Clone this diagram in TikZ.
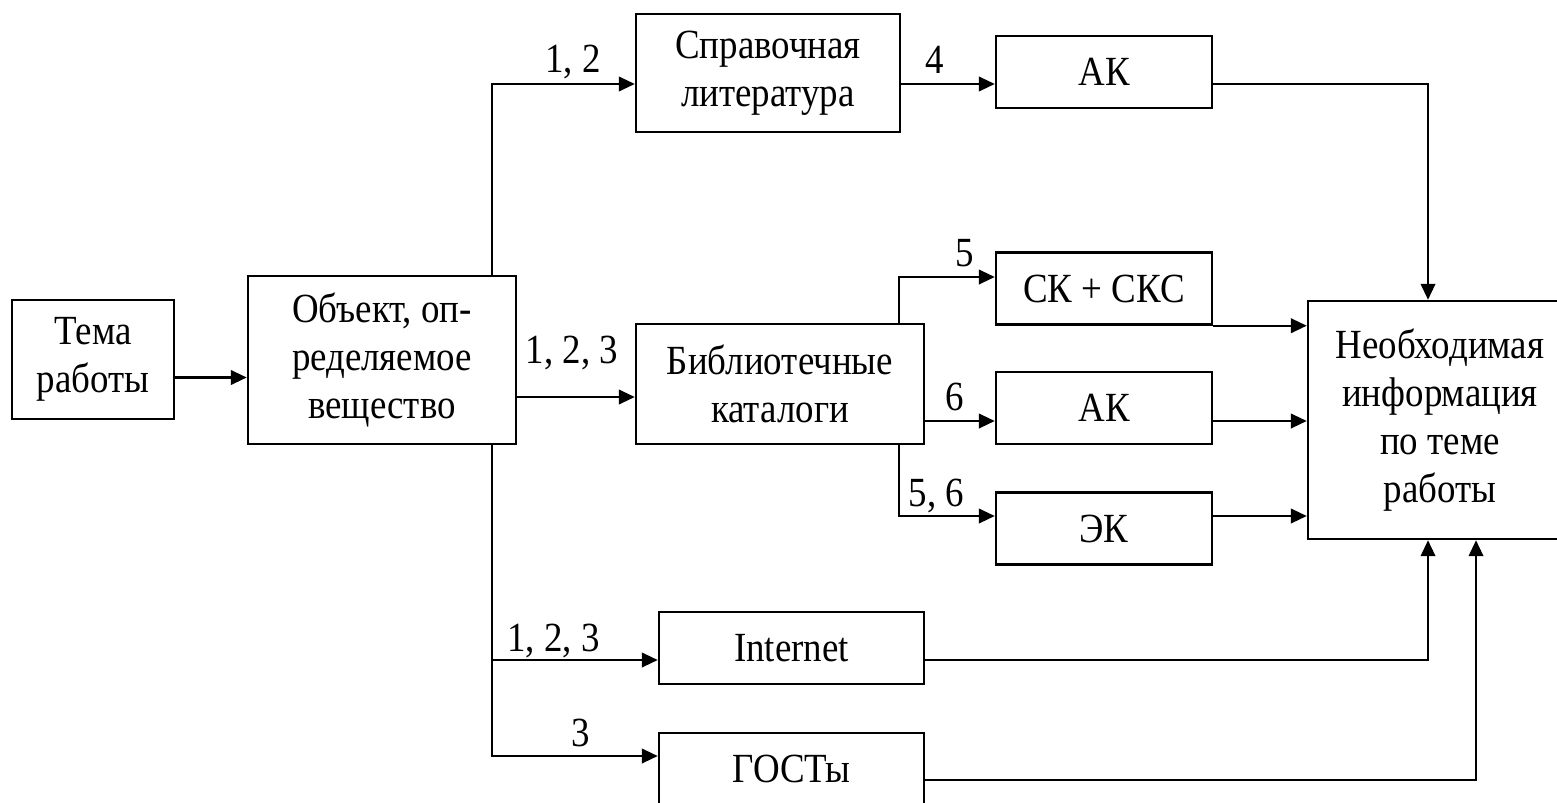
\documentclass[tikz,border=0pt]{standalone}
\usepackage{fontspec}
\setmainfont{Liberation Serif}[FakeStretch=0.89]
\usetikzlibrary{arrows.meta}

\tikzset{
  blok/.style={draw,inner sep=0pt,align=center,font=\fontsize{11.8}{13.6}\selectfont},
  katalog/.style={blok,minimum width=2.16cm,minimum height=0.72cm},
  metka/.style={anchor=base,inner sep=0pt,font=\fontsize{11.8}{13.6}\selectfont},
}

\begin{document}
\begin{tikzpicture}[line join=miter,>={Triangle[length=1.6mm,width=1.45mm]},line width=0.7pt,x=1.0cm,y=1.0cm]
\useasboundingbox (0,0) rectangle (15.57,8.02);

% blocks
\node[blok,minimum width=1.62cm,minimum height=1.19cm] (tema) at (0.93,4.425) {Тема\\работы};
\node[blok,minimum width=2.68cm,minimum height=1.68cm] (obj) at (3.82,4.42) {Объект, оп-\\ределяемое\\вещество};
\node[blok,minimum width=2.64cm,minimum height=1.18cm] (sprav) at (7.68,7.29) {Справочная\\литература};
\node[blok,minimum width=2.88cm,minimum height=1.20cm] (bibl) at (7.80,4.18) {Библиотечные\\каталоги};
\node[katalog] (ak1) at (11.04,7.30) {АК};
\node[katalog] (sks) at (11.04,5.135) {СК + СКС};
\node[katalog] (ak2) at (11.04,3.94) {АК};
\node[katalog] (ek) at (11.04,2.735) {ЭК};
\node[blok,minimum width=2.65cm,minimum height=0.72cm] (inet) at (7.915,1.54) {Internet};
\node[blok,minimum width=2.65cm,minimum height=0.72cm] (gost) at (7.915,0.33) {ГОСТы};
\node[blok,minimum width=2.64cm,minimum height=2.38cm] (info) at (14.40,3.82) {Необходимая\\информация\\по теме\\работы};

% arrows
\draw[->] ([yshift=-1.8mm]tema.east) -- ([yshift=-1.8mm]tema.east -| obj.west);
\draw[->] ([xshift=11mm]obj.north) |- ([yshift=-1.1mm]sprav.west);
\draw[->] ([yshift=-3.7mm]obj.east) -- ([yshift=-3.7mm]obj.east -| bibl.west);
\draw[->] ([xshift=11mm]obj.south) |- ([yshift=-1.2mm]inet.west);
\draw[->] ([xshift=11mm]obj.south) |- ([yshift=1.3mm]gost.west);
\draw[->] ([yshift=-1.1mm]sprav.east) -- ([yshift=-1.1mm]sprav.east -| ak1.west);
\draw[->] ([yshift=-1.2mm]ak1.east) -| ([xshift=-1.2mm]info.north);
\draw[->] ([xshift=11.9mm]bibl.north) |- ([yshift=1.15mm]sks.west);
\draw[->] ([yshift=-3.7mm]bibl.east) -- ([yshift=-3.7mm]bibl.east -| ak2.west);
\draw[->] ([xshift=11.9mm]bibl.south) |- ([yshift=1.25mm]ek.west);
\draw[->] (sks.south east) -- (sks.south east -| info.west);
\draw[->] ([yshift=-1.3mm]ak2.east) -- ([yshift=-1.3mm]ak2.east -| info.west);
\draw[->] ([yshift=1.25mm]ek.east) -- ([yshift=1.25mm]ek.east -| info.west);
\draw[->] ([yshift=-1.2mm]inet.east) -| ([xshift=-1.2mm]info.south);
\draw[->] ([yshift=-1.1mm]gost.east) -| ([xshift=3.6mm]info.south);

% labels
\node[metka] (m12) at (5.73,7.29) {1, 2};
\node[metka] (m123a) at (5.72,4.39) {1, 2, 3};
\node[metka] (m4) at (9.35,7.28) {4};
\node[metka] (m5) at (9.645,5.35) {5};
\node[metka] (m6) at (9.55,3.92) {6};
\node[metka] (m56) at (9.365,2.96) {5, 6};
\node[metka] (m123b) at (5.535,1.51) {1, 2, 3};
\node[metka] (m3) at (5.805,0.56) {3};
\end{tikzpicture}
\end{document}
